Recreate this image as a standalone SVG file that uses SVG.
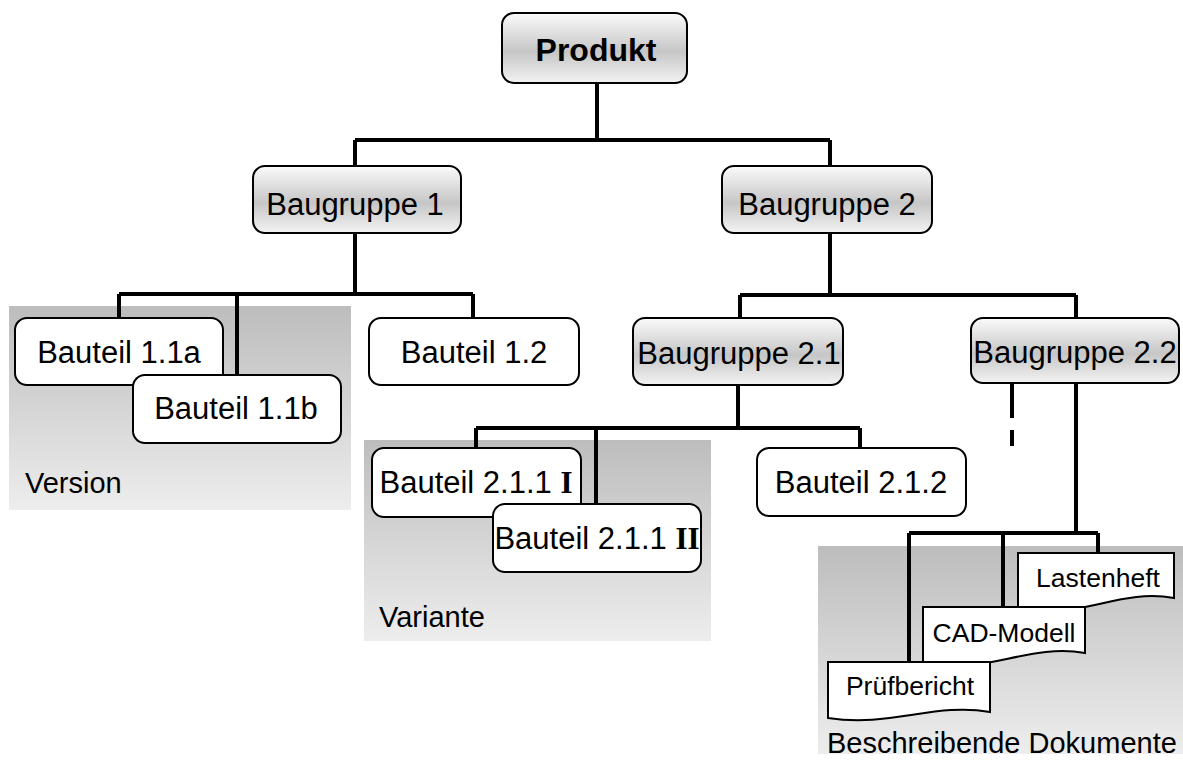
<svg xmlns="http://www.w3.org/2000/svg" width="1183" height="764" viewBox="0 0 1183 764">
  <defs>
    <linearGradient id="nodeShade" x1="0" y1="0" x2="0" y2="1">
      <stop offset="0" stop-color="#fbfbfb"/>
      <stop offset="0.55" stop-color="#c6c6c6"/>
      <stop offset="1" stop-color="#f3f3f3"/>
    </linearGradient>
    <linearGradient id="areaShade" x1="0" y1="0" x2="0" y2="1">
      <stop offset="0" stop-color="#bdbdbd"/>
      <stop offset="1" stop-color="#ededed"/>
    </linearGradient>
    <style>
      text { font-family: "Liberation Sans", Arial, sans-serif; fill: #000; }
      .lbl { font-size: 31px; text-anchor: middle; }
      .doc-lbl { font-size: 26.5px; text-anchor: middle; }
      .area-lbl { font-size: 29px; }
      .title { font-size: 32px; font-weight: bold; text-anchor: middle; }
      .roman { font-family: "Liberation Serif", "Times New Roman", serif; font-weight: bold; }
      .box { stroke: #000; stroke-width: 2; }
      .grp { fill: url(#nodeShade); }
      .part { fill: #fff; }
      .doc { fill: #fff; stroke: #000; stroke-width: 2; }
      .area { fill: url(#areaShade); }
      .wire { fill: none; stroke: #000; stroke-width: 4; }
    </style>
  </defs>

  <!-- shaded grouping areas -->
  <g id="area-version">
    <rect class="area" x="9" y="306" width="342" height="204"/>
    <text class="area-lbl" x="25" y="493">Version</text>
  </g>
  <g id="area-variante">
    <rect class="area" x="364" y="440" width="347" height="201"/>
    <text class="area-lbl" x="379" y="627">Variante</text>
  </g>
  <g id="area-dokumente">
    <rect class="area" x="818" y="546" width="365" height="208"/>
    <text class="area-lbl" x="827" y="753">Beschreibende Dokumente</text>
  </g>

  <!-- tree connectors -->
  <g id="connectors" class="wire">
    <path d="M597 83 V140 M355 140 H830 M355 140 V166 M830 140 V166"/>
    <path d="M355 233 V294 M119 294 H473 M119 294 V318 M237 294 V375 M473 294 V318"/>
    <path d="M830 233 V295 M740 295 H1076 M740 295 V318 M1076 295 V318"/>
    <path d="M738 385 V428 M476 428 H860 M476 428 V448 M596 428 V504 M860 428 V448"/>
    <path d="M1076 383 V533 M909 533 H1098 M909 533 V662 M1003 533 V607 M1098 533 V553"/>
    <path d="M1012 384 V418 M1012 430 V446"/>
  </g>

  <!-- nodes -->
  <g id="produkt">
    <rect class="box grp" x="502" y="13" width="185" height="70" rx="12"/>
    <text class="title" x="596" y="61">Produkt</text>
  </g>
  <g id="baugruppe-1">
    <rect class="box grp" x="253" y="166" width="208" height="67" rx="12"/>
    <text class="lbl" x="355" y="215">Baugruppe 1</text>
  </g>
  <g id="baugruppe-2">
    <rect class="box grp" x="722" y="166" width="210" height="67" rx="12"/>
    <text class="lbl" x="827" y="215">Baugruppe 2</text>
  </g>
  <g id="bauteil-1-1a">
    <rect class="box part" x="15" y="318" width="208" height="67" rx="12"/>
    <text class="lbl" x="119" y="363">Bauteil 1.1a</text>
  </g>
  <g id="bauteil-1-1b">
    <rect class="box part" x="133" y="375" width="208" height="68" rx="12"/>
    <text class="lbl" x="236" y="419">Bauteil 1.1b</text>
  </g>
  <g id="bauteil-1-2">
    <rect class="box part" x="369" y="318" width="210" height="67" rx="12"/>
    <text class="lbl" x="474" y="363">Bauteil 1.2</text>
  </g>
  <g id="baugruppe-2-1">
    <rect class="box grp" x="633" y="318" width="210" height="67" rx="12"/>
    <text class="lbl" x="739" y="364">Baugruppe 2.1</text>
  </g>
  <g id="baugruppe-2-2">
    <rect class="box grp" x="971" y="318" width="208" height="65" rx="12"/>
    <text class="lbl" x="1075" y="363">Baugruppe 2.2</text>
  </g>
  <g id="bauteil-2-1-1-i">
    <rect class="box part" x="372" y="448" width="209" height="69" rx="12"/>
    <text class="lbl" x="476" y="493">Bauteil 2.1.1 <tspan class="roman">I</tspan></text>
  </g>
  <g id="bauteil-2-1-1-ii">
    <rect class="box part" x="493" y="504" width="208" height="68" rx="12"/>
    <text class="lbl" x="597" y="549">Bauteil 2.1.1 <tspan class="roman">II</tspan></text>
  </g>
  <g id="bauteil-2-1-2">
    <rect class="box part" x="757" y="448" width="209" height="68" rx="12"/>
    <text class="lbl" x="861" y="493">Bauteil 2.1.2</text>
  </g>

  <!-- document shapes -->
  <g id="lastenheft">
    <path class="doc" d="M1018 553 H1174 V598 C1120 588 1080 620 1018 610 Z"/>
    <text class="doc-lbl" x="1098" y="587">Lastenheft</text>
  </g>
  <g id="cad-modell">
    <path class="doc" d="M923 607 H1085 V653 C1030 643 985 675 923 665 Z"/>
    <text class="doc-lbl" x="1004" y="642">CAD-Modell</text>
  </g>
  <g id="pruefbericht">
    <path class="doc" d="M828 662 H990 V712 C935 702 890 728 828 718 Z"/>
    <text class="doc-lbl" x="910" y="695">Prüfbericht</text>
  </g>
</svg>
